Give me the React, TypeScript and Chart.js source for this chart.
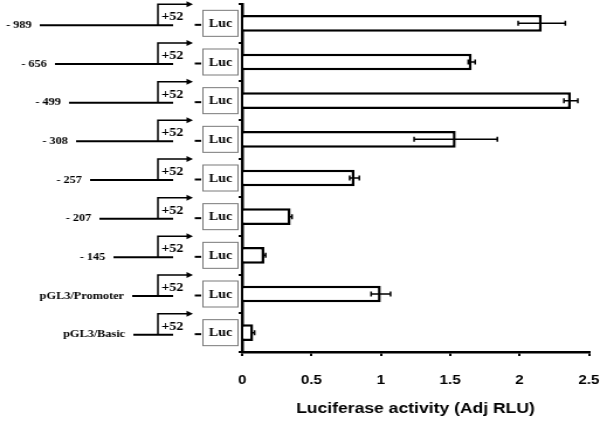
import React, { useEffect, useRef } from "react";
import { Chart, registerables } from "chart.js";

Chart.register(...registerables);

// ---- data ----
const categories = [
  "- 989",
  "- 656",
  "- 499",
  "- 308",
  "- 257",
  "- 207",
  "- 145",
  "pGL3/Promoter",
  "pGL3/Basic",
];
const activity = [2.16, 1.655, 2.37, 1.54, 0.81, 0.35, 0.16, 1.0, 0.08];
const errorSD = [0.17, 0.025, 0.05, 0.3, 0.035, 0.01, 0.01, 0.07, 0.01];
const xTicks = [0, 0.5, 1, 1.5, 2, 2.5];
const tssLabel = "+52";
const reporterLabel = "Luc";
const xAxisTitle = "Luciferase activity (Adj RLU)";

// ---- layout (internal canvas px; canvas is stretched horizontally to 600px) ----
const CANVAS_W = 513;
const DISPLAY_W = 600;
const CANVAS_H = 422;
const lineStartX = [34, 47, 59, 65, 77, 85, 97, 113, 114];
const LINE_END_X = 148;
const ARROW_X = 135;
const BOX_X = 173.5;
const BOX_W = 30;
const BOX_H = 26;

const constructPlugin = {
  id: "constructs",
  afterDraw(chart: any) {
    const ctx = chart.ctx as CanvasRenderingContext2D;
    const yScale = chart.scales.y;
    ctx.save();
    categories.forEach((lab, i) => {
      const c = yScale.getPixelForValue(i);
      const x0 = lineStartX[i];
      ctx.fillStyle = "#000";
      ctx.strokeStyle = "#000";
      // construct label
      ctx.font = 'bold 10.5px "Liberation Serif", serif';
      ctx.textAlign = "right";
      ctx.textBaseline = "middle";
      ctx.fillText(lab, x0 - 7, c + 2);
      // promoter line
      ctx.lineWidth = 2;
      ctx.beginPath();
      ctx.moveTo(x0, c + 2);
      ctx.lineTo(LINE_END_X, c + 2);
      ctx.stroke();
      // transcription start arrow
      ctx.lineWidth = 1.5;
      ctx.beginPath();
      ctx.moveTo(ARROW_X, c + 2);
      ctx.lineTo(ARROW_X, c - 19);
      ctx.lineTo(160, c - 19);
      ctx.stroke();
      ctx.beginPath();
      ctx.moveTo(159.5, c - 22);
      ctx.lineTo(165, c - 19);
      ctx.lineTo(159.5, c - 16);
      ctx.closePath();
      ctx.fill();
      // +52
      ctx.font = 'bold 12px "Liberation Serif", serif';
      ctx.textAlign = "left";
      ctx.fillText(tssLabel, 138, c - 6);
      // dash
      ctx.lineWidth = 2;
      ctx.beginPath();
      ctx.moveTo(166.5, c + 1.5);
      ctx.lineTo(172, c + 1.5);
      ctx.stroke();
      // Luc box
      ctx.strokeStyle = "#7a7a7a";
      ctx.lineWidth = 1;
      ctx.strokeRect(BOX_X, c - BOX_H / 2, BOX_W, BOX_H);
      ctx.font = 'bold 12px "Liberation Serif", serif';
      ctx.textAlign = "center";
      ctx.fillText(reporterLabel, BOX_X + BOX_W / 2, c + 0.5);
    });
    ctx.restore();
  },
};

const errorBarPlugin = {
  id: "errorBars",
  afterDatasetsDraw(chart: any) {
    const ctx = chart.ctx as CanvasRenderingContext2D;
    const xScale = chart.scales.x;
    const yScale = chart.scales.y;
    ctx.save();
    ctx.strokeStyle = "#000";
    ctx.lineWidth = 1.5;
    activity.forEach((v, i) => {
      const e = errorSD[i];
      const y = yScale.getPixelForValue(i);
      const x1 = xScale.getPixelForValue(v - e);
      const x2 = xScale.getPixelForValue(v + e);
      ctx.beginPath();
      ctx.moveTo(x1, y);
      ctx.lineTo(x2, y);
      ctx.moveTo(x1, y - 2.5);
      ctx.lineTo(x1, y + 2.5);
      ctx.moveTo(x2, y - 2.5);
      ctx.lineTo(x2, y + 2.5);
      ctx.stroke();
    });
    ctx.restore();
  },
};

export default function App() {
  const ref = useRef<HTMLCanvasElement | null>(null);

  useEffect(() => {
    if (!ref.current) return;
    const chart = new Chart(ref.current, {
      type: "bar",
      data: {
        labels: categories,
        datasets: [
          {
            data: activity,
            backgroundColor: "#ffffff",
            borderColor: "#000000",
            borderWidth: 2.5,
            barPercentage: 0.43,
            categoryPercentage: 1,
          },
        ],
      },
      options: {
        indexAxis: "y",
        responsive: false,
        maintainAspectRatio: false,
        devicePixelRatio: 1,
        animation: false,
        layout: { padding: { top: 4, right: 0, left: 0, bottom: 0 } },
        plugins: {
          legend: { display: false },
          tooltip: { enabled: false },
        },
        scales: {
          x: {
            type: "linear",
            min: xTicks[0],
            max: xTicks[xTicks.length - 1],
            afterBuildTicks: (s: any) => {
              s.ticks = xTicks.map((v) => ({ value: v }));
            },
            ticks: {
              color: "#000",
              padding: 17,
              callback: (v: any) => String(Number(v)),
              font: { family: '"Liberation Sans", Arial, sans-serif', weight: "bold", size: 13 },
            },
            grid: {
              display: true,
              drawOnChartArea: false,
              drawTicks: true,
              tickLength: 4,
              color: "#000",
              lineWidth: 2,
            },
            border: { display: true, color: "#000", width: 2.5 },
            title: {
              display: true,
              text: xAxisTitle,
              color: "#000",
              padding: { top: 0, bottom: 4 },
              font: { family: '"Liberation Sans", Arial, sans-serif', weight: "bold", size: 15 },
            },
            afterFit: (s: any) => {
              s.height = 70;
              s.paddingRight = 9.5;
              s.paddingLeft = 9.5;
            },
          },
          y: {
            type: "category",
            ticks: { display: false },
            grid: {
              display: true,
              drawOnChartArea: false,
              drawTicks: true,
              tickLength: 3,
              color: "#000",
              lineWidth: 2,
              offset: true,
            },
            border: { display: true, color: "#000", width: 2.5 },
            afterFit: (s: any) => {
              s.width = 207;
            },
          },
        },
      },
      plugins: [errorBarPlugin, constructPlugin],
    });
    return () => chart.destroy();
  }, []);

  return (
    <div style={{ position: "fixed", left: 0, top: 0, width: DISPLAY_W, height: CANVAS_H, background: "#fff" }}>
      <canvas
        ref={ref}
        width={CANVAS_W}
        height={CANVAS_H}
        style={{ width: DISPLAY_W + "px", height: CANVAS_H + "px", display: "block" }}
      />
    </div>
  );
}
